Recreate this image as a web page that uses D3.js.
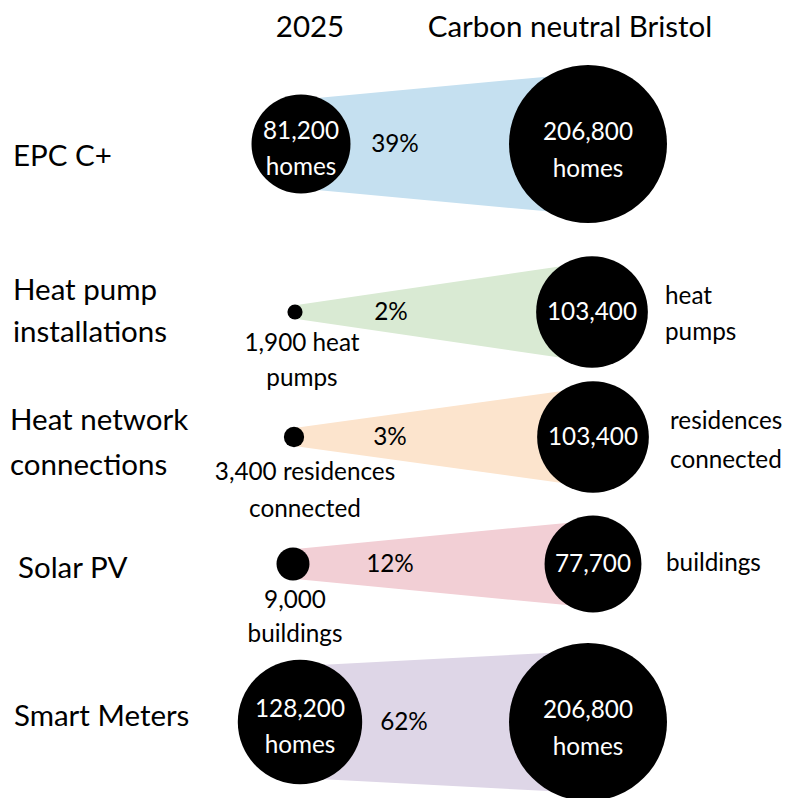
<!DOCTYPE html>
<html>
<head>
<meta charset="utf-8">
<script src="https://cdn.jsdelivr.net/npm/d3@7"></script>
<style>
  html, body { margin: 0; padding: 0; background: #ffffff; }
  svg { display: block; }
  text { font-family: Lato, "Noto Sans", sans-serif; }
</style>
</head>
<body>
<div id="chart"></div>
<script>
// ---------------- data ----------------
const headers = ["2025", "Carbon neutral Bristol"];
const categoryLines = [["EPC C+"], ["Heat pump", "installations"], ["Heat network", "connections"], ["Solar PV"], ["Smart Meters"]];
const values2025 = [81200, 1900, 3400, 9000, 128200];
const valuesTarget = [206800, 103400, 103400, 77700, 206800];
const units2025 = [["homes"], ["heat", "pumps"], ["residences", "connected"], ["buildings"], ["homes"]];
const unitsTarget = [["homes"], ["heat", "pumps"], ["residences", "connected"], ["buildings"], ["homes"]];
const bandColors = ["#c5e0f0", "#d9ead3", "#fce4cd", "#f2cfd5", "#ded6e7"];

// ---------------- layout ----------------
const W = 786, H = 798;
const rowY = [144, 312, 437, 564, 722];
const smallX = [301, 295, 294, 293, 300];
const bigX = [588, 592, 593, 593, 588];
const BIG = 29.5, SMALL = 24.3;
const fmt = d3.format(",");

const r = d3.scaleSqrt().domain([0, d3.max(valuesTarget)]).range([0, 79]);

const svg = d3.select("#chart").append("svg").attr("width", W).attr("height", H);

// headers
svg.append("text").attr("x", 310).attr("y", 37).attr("text-anchor", "middle")
  .attr("font-size", BIG).text(headers[0]);
svg.append("text").attr("x", 570).attr("y", 37).attr("text-anchor", "middle")
  .attr("font-size", BIG).text(headers[1]);

// row label positions
const catX = [13, 13, 10, 18, 14];
const catBase = [[166], [300, 342], [430, 475], [578], [726]];

const rows = values2025.map((v, i) => ({
  i, v, t: valuesTarget[i], cy: rowY[i], x1: smallX[i], x2: bigX[i],
  r1: r(v), r2: r(valuesTarget[i])
}));

// bands
const K = 0.9;
svg.selectAll("path.band").data(rows).join("path").attr("class", "band")
  .attr("fill", d => bandColors[d.i])
  .attr("d", d => d3.line()([
    [d.x1, d.cy - K * d.r1], [d.x2, d.cy - K * d.r2],
    [d.x2, d.cy + K * d.r2], [d.x1, d.cy + K * d.r1]
  ]) + "Z");

// circles
svg.selectAll("circle.small").data(rows).join("circle").attr("class", "small")
  .attr("cx", d => d.x1).attr("cy", d => d.cy).attr("r", d => d.r1).attr("fill", "#000");
svg.selectAll("circle.big").data(rows).join("circle").attr("class", "big")
  .attr("cx", d => d.x2).attr("cy", d => d.cy).attr("r", d => d.r2).attr("fill", "#000");

// row labels
rows.forEach(d => {
  categoryLines[d.i].forEach((ln, j) => {
    svg.append("text").attr("x", catX[d.i]).attr("y", catBase[d.i][j])
      .attr("font-size", BIG).attr("fill", "#000").text(ln);
  });
});

// percentage labels
const pctX = [395, 391, 390, 390, 404];
rows.forEach(d => {
  svg.append("text").attr("x", pctX[d.i]).attr("y", d.cy + 8)
    .attr("text-anchor", "middle").attr("font-size", SMALL)
    .text(d3.format(".0%")(d.v / d.t));
});

function lines(x, ys, arr, fill, anchor) {
  arr.forEach((ln, j) => {
    svg.append("text").attr("x", x).attr("y", ys[j]).attr("text-anchor", anchor || "middle")
      .attr("font-size", SMALL).attr("fill", fill).text(ln);
  });
}

// 2025 circle labels
rows.forEach(d => {
  const u = units2025[d.i];
  if (d.r1 > 40) {
    lines(d.x1, [d.cy - 5, d.cy + 31], [fmt(d.v), u.join(" ")], "#fff");
  } else if (u.length === 2) {
    const ax = [0, 302, 305][d.i];
    const dy = [0, [39, 74], [43, 80]][d.i];
    lines(ax, [d.cy + dy[0], d.cy + dy[1]], [fmt(d.v) + " " + u[0], u[1]], "#000");
  } else {
    lines(295, [d.cy + 44, d.cy + 78], [fmt(d.v), u[0]], "#000");
  }
});

// target circle labels
rows.forEach(d => {
  const u = unitsTarget[d.i];
  if (d.r2 > 70) {
    lines(d.x2, [d.cy - 4, d.cy + 33], [fmt(d.t), u.join(" ")], "#fff");
  } else {
    lines(d.x2, [d.cy + 8], [fmt(d.t)], "#fff");
    const ux = [0, 665, 670, 666][d.i];
    const uy = u.length === 2 ? [d.cy - 8, d.cy + (d.i === 2 ? 31 : 28)] : [d.cy + 7];
    lines(ux, uy, u, "#000", "start");
  }
});
</script>
</body>
</html>
